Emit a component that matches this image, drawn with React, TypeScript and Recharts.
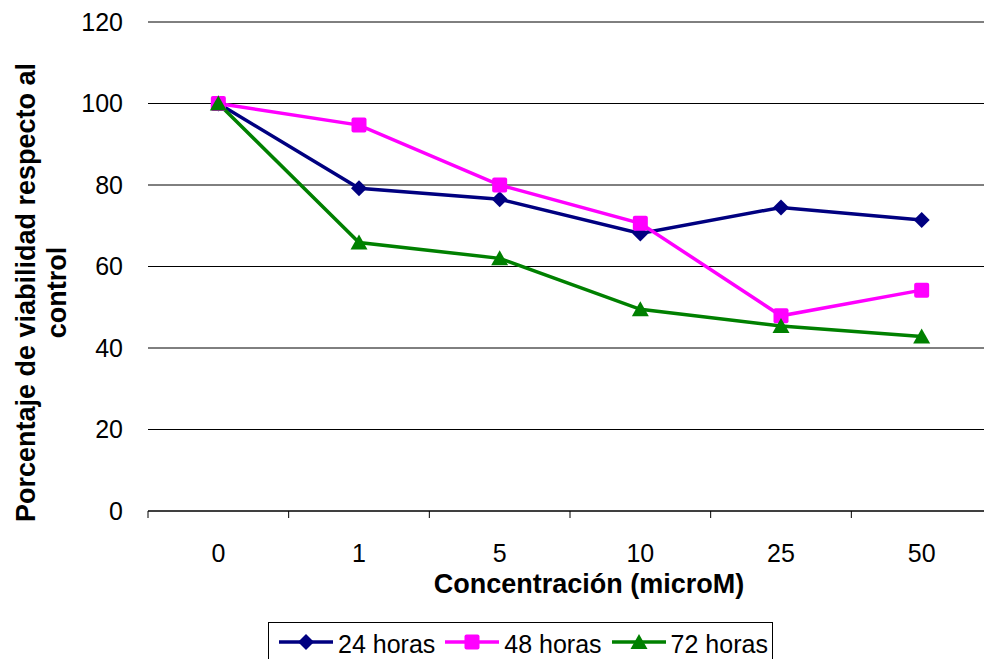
import { CartesianGrid, Label, Legend, Line, LineChart, XAxis, YAxis } from 'recharts'

const categories = ['0', '1', '5', '10', '25', '50']
const horas24 = [100, 79.2, 76.5, 68.1, 74.5, 71.4]
const horas48 = [100, 94.7, 80.0, 70.6, 47.9, 54.2]
const horas72 = [100, 65.9, 62.0, 49.5, 45.4, 42.8]
const yTicks = [0, 20, 40, 60, 80, 100, 120]

const data = categories.map((c, i) => ({
  idx: i,
  conc: c,
  h24: horas24[i],
  h48: horas48[i],
  h72: horas72[i],
}))

// tick marks sit between categories, labels in the middle of each band
const boundaries = [...categories.map((_, i) => i - 0.5), categories.length - 0.5]

const FONT = '"Liberation Sans", Arial, sans-serif'
const CHART_W = 1000
const CHART_H = 659
const Y_W = 148
const MARGIN = { top: 22, right: 8, bottom: 0, left: 0 }
const BAND = (CHART_W - MARGIN.left - MARGIN.right - Y_W) / categories.length

const NAVY = '#000080'
const MAGENTA = '#FF00FF'
const GREEN = '#008000'

const Diamond = ({ cx, cy, fill }) => (
  <polygon
    points={`${cx},${cy - 8} ${cx + 8},${cy} ${cx},${cy + 8} ${cx - 8},${cy}`}
    fill={fill}
  />
)

const Square = ({ cx, cy, fill }) => (
  <rect x={cx - 7.5} y={cy - 7.5} width={15} height={15} rx={2} fill={fill} />
)

const Triangle = ({ cx, cy, fill }) => (
  <polygon
    points={`${cx},${cy - 8} ${cx + 8.5},${cy + 7} ${cx - 8.5},${cy + 7}`}
    fill={fill}
  />
)

const series = [
  { key: 'h24', name: '24 horas', color: NAVY, Marker: Diamond },
  { key: 'h48', name: '48 horas', color: MAGENTA, Marker: Square },
  { key: 'h72', name: '72 horas', color: GREEN, Marker: Triangle },
]

const ConcTick = (props) => {
  const { x, y, payload } = props
  const i = Math.round(payload.value + 0.5)
  if (i >= categories.length) return null
  return (
    <text x={x + BAND / 2} y={y} textAnchor="middle" fontSize={25} fontFamily={FONT} fill="#000">
      {categories[i]}
    </text>
  )
}

const XTitle = ({ viewBox }) => (
  <text
    x={viewBox.x + viewBox.width / 2 + 19}
    y={viewBox.y + 82}
    textAnchor="middle"
    fontSize={27}
    fontWeight="bold"
    fontFamily={FONT}
    fill="#000"
  >
    Concentración (microM)
  </text>
)

const YTitle = ({ viewBox }) => (
  <g transform={`translate(0, ${viewBox.y + viewBox.height / 2 + 26}) rotate(-90)`}>
    <text x={0} y={34.5} textAnchor="middle" fontSize={27} fontWeight="bold" fontFamily={FONT} fill="#000">
      Porcentaje de viabilidad respecto al
    </text>
    <text x={0} y={65.5} textAnchor="middle" fontSize={27} fontWeight="bold" fontFamily={FONT} fill="#000">
      control
    </text>
  </g>
)

// legend box runs off the bottom edge, so no bottom border is drawn
const LegendBox = () => (
  <div
    style={{
      display: 'flex',
      alignItems: 'flex-start',
      borderTop: '1px solid #000',
      borderLeft: '1px solid #000',
      borderRight: '1px solid #000',
      background: '#fff',
      padding: '0 4px 0 10px',
      height: 37,
      boxSizing: 'border-box',
      fontFamily: FONT,
      fontSize: 25,
      color: '#000',
      whiteSpace: 'nowrap',
    }}
  >
    {series.map(({ key, name, color, Marker }, i) => (
      <div key={key} style={{ display: 'flex', alignItems: 'flex-start', marginRight: i < series.length - 1 ? 10 : 0 }}>
        <svg width={54} height={36} style={{ display: 'block' }}>
          <line x1={0} y1={19} x2={54} y2={19} stroke={color} strokeWidth={3.5} />
          <Marker cx={27} cy={19} fill={color} />
        </svg>
        <span style={{ marginLeft: 5, marginTop: 10, lineHeight: '22px' }}>{name}</span>
      </div>
    ))}
  </div>
)

export default function App() {
  return (
    <div
      style={{
        position: 'fixed',
        left: 0,
        top: 0,
        width: 984,
        height: 659,
        overflow: 'hidden',
        background: '#fff',
      }}
    >
      <LineChart width={CHART_W} height={CHART_H} data={data} margin={MARGIN}>
        <CartesianGrid horizontal vertical={false} stroke="#000" strokeWidth={1} />
        <XAxis
          dataKey="idx"
          type="number"
          domain={[-0.5, categories.length - 0.5]}
          ticks={boundaries}
          interval={0}
          height={148}
          tickSize={7}
          tickMargin={44}
          tick={<ConcTick />}
          axisLine={{ stroke: '#000' }}
          tickLine={{ stroke: '#000' }}
        >
          <Label content={<XTitle />} />
        </XAxis>
        <YAxis
          type="number"
          domain={[0, 120]}
          ticks={yTicks}
          interval={0}
          width={Y_W}
          axisLine={false}
          tickLine={false}
          tickSize={6}
          tickMargin={19}
          tick={{ fontSize: 25, fontFamily: FONT, fill: '#000' }}
        >
          <Label content={<YTitle />} />
        </YAxis>
        <Legend
          layout="horizontal"
          verticalAlign="middle"
          align="center"
          content={<LegendBox />}
          wrapperStyle={{ top: 622, left: 268, width: 'auto' }}
        />
        {series.map(({ key, name, color, Marker }) => (
          <Line
            key={key}
            dataKey={key}
            name={name}
            type="linear"
            stroke={color}
            strokeWidth={3.5}
            dot={(p) => <Marker key={`${key}-${p.index}`} cx={p.cx} cy={p.cy} fill={color} />}
            activeDot={false}
            isAnimationActive={false}
          />
        ))}
      </LineChart>
    </div>
  )
}
